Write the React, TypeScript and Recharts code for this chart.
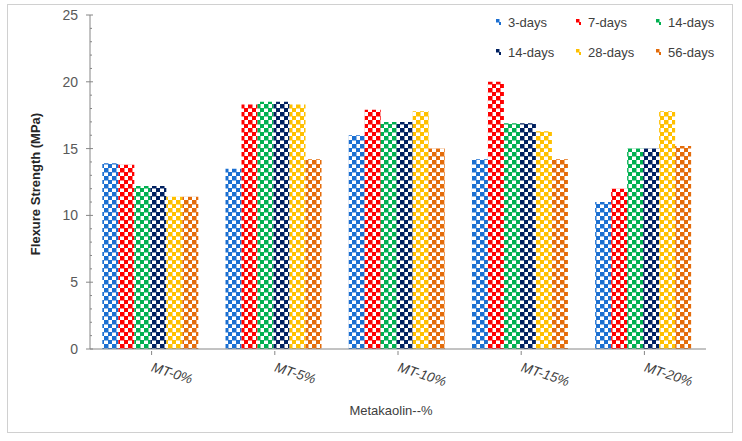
import { BarChart, Bar, XAxis, YAxis, Legend, Label } from 'recharts';

// flexure strength (MPa) per metakaolin replacement level
const categories = ['MT-0%', 'MT-5%', 'MT-10%', 'MT-15%', 'MT-20%'];
const days3 = [13.9, 13.5, 16.0, 14.2, 11.0];
const days7 = [13.8, 18.3, 17.9, 20.0, 12.0];
const days14a = [12.2, 18.5, 17.0, 16.9, 15.0];
const days14b = [12.2, 18.5, 17.0, 16.9, 15.0];
const days28 = [11.4, 18.3, 17.8, 16.3, 17.8];
const days56 = [11.4, 14.2, 15.0, 14.2, 15.2];
const yTicks = [0, 1, 2, 3, 4, 5, 6, 7, 8, 9, 10, 11, 12, 13, 14, 15, 16, 17, 18, 19, 20, 21, 22, 23, 24, 25];

const series = [
  { key: 'd3', name: '3-days', color: '#1B6FD1' },
  { key: 'd7', name: '7-days', color: '#FF0000' },
  { key: 'd14a', name: '14-days', color: '#00B050' },
  { key: 'd14b', name: '14-days', color: '#002060' },
  { key: 'd28', name: '28-days', color: '#FFC000' },
  { key: 'd56', name: '56-days', color: '#E46C0A' },
];

const data = categories.map((name, i) => ({
  name,
  d3: days3[i],
  d7: days7[i],
  d14a: days14a[i],
  d14b: days14b[i],
  d28: days28[i],
  d56: days56[i],
}));

const FONT = '"Liberation Sans", Arial, sans-serif';

const YTick = (props: any) => {
  const { x, y, payload } = props;
  const major = payload.value % 5 === 0;
  return (
    <g>
      {major ? (
        <line x1={x - 4} x2={x + 3} y1={y} y2={y} stroke="#868686" />
      ) : (
        <line x1={x} x2={x + 2} y1={y} y2={y} stroke="#868686" />
      )}
      {major && (
        <text x={x - 12} y={y} dy={5} textAnchor="end" fontSize={14} fill="#595959" fontFamily={FONT}>
          {payload.value}
        </text>
      )}
    </g>
  );
};

const XTick = (props: any) => {
  const { x, y, payload } = props;
  const ty = y + 20;
  return (
    <g>
      <line x1={x} x2={x} y1={y} y2={y + 4} stroke="#868686" />
      <text
        x={x - 1}
        y={ty}
        transform={`rotate(18, ${x - 1}, ${ty})`}
        fontSize={13.5}
        fontStyle="italic"
        fill="#404040"
        fontFamily={FONT}
      >
        {payload.value}
      </text>
    </g>
  );
};

const YTitle = () => (
  <text
    x={40}
    y={184}
    transform="rotate(-90, 40, 184)"
    textAnchor="middle"
    fontSize={13}
    fontWeight="bold"
    fill="#262626"
    fontFamily={FONT}
  >
    Flexure Strength (MPa)
  </text>
);

const XTitle = () => (
  <text x={391} y={415} textAnchor="middle" fontSize={13} fill="#404040" fontFamily={FONT}>
    Metakaolin--%
  </text>
);

const LegendBox = () => (
  <div style={{ display: 'grid', gridTemplateColumns: '80px 80px 80px', rowGap: 12, fontFamily: FONT, fontSize: 13, color: '#404040' }}>
    {series.map((s) => (
      <div key={s.key} style={{ display: 'flex', alignItems: 'center', height: 18 }}>
        <svg width={10} height={8} style={{ marginRight: 3 }}>
          <rect x={1} y={1} width={5} height={6} fill={`url(#chk-${s.key})`} />
        </svg>
        <span>{s.name}</span>
      </div>
    ))}
  </div>
);

export default function App() {
  return (
    <div style={{ position: 'absolute', left: 0, top: 0, width: 742, height: 441, background: '#fff' }}>
      <div
        style={{
          position: 'absolute',
          left: 7,
          top: 4,
          width: 724,
          height: 427,
          border: '1.5px solid #d0d0d0',
          pointerEvents: 'none',
        }}
      />
      <BarChart
        width={742}
        height={441}
        data={data}
        margin={{ top: 15, right: 36, left: 0, bottom: 0 }}
        barCategoryGap="10%"
        barGap={0}
      >
        <defs>
          {series.map((s) => (
            <pattern key={s.key} id={`chk-${s.key}`} patternUnits="userSpaceOnUse" width={8} height={8}>
              <rect x={0} y={0} width={8} height={8} fill="#fff" />
              <rect x={0} y={0} width={4.5} height={4.5} fill={s.color} />
              <rect x={4} y={4} width={4.5} height={4.5} fill={s.color} />
            </pattern>
          ))}
        </defs>
        <XAxis
          dataKey="name"
          height={92}
          stroke="#868686"
          tickSize={0}
          tickLine={false}
          tick={<XTick />}
          interval={0}
        >
          <Label content={<XTitle />} />
        </XAxis>
        <YAxis
          width={90}
          domain={[0, 25]}
          ticks={yTicks}
          interval={0}
          stroke="#868686"
          tickSize={0}
          tickMargin={0}
          tickLine={false}
          tick={<YTick />}
        >
          <Label content={<YTitle />} />
        </YAxis>
        <Legend
          layout="vertical"
          align="center"
          verticalAlign="middle"
          content={<LegendBox />}
          wrapperStyle={{ position: 'absolute', top: 13, left: 495, width: 240 }}
        />
        {series.map((s) => (
          <Bar key={s.key} dataKey={s.key} name={s.name} fill={`url(#chk-${s.key})`} isAnimationActive={false} />
        ))}
      </BarChart>
    </div>
  );
}
